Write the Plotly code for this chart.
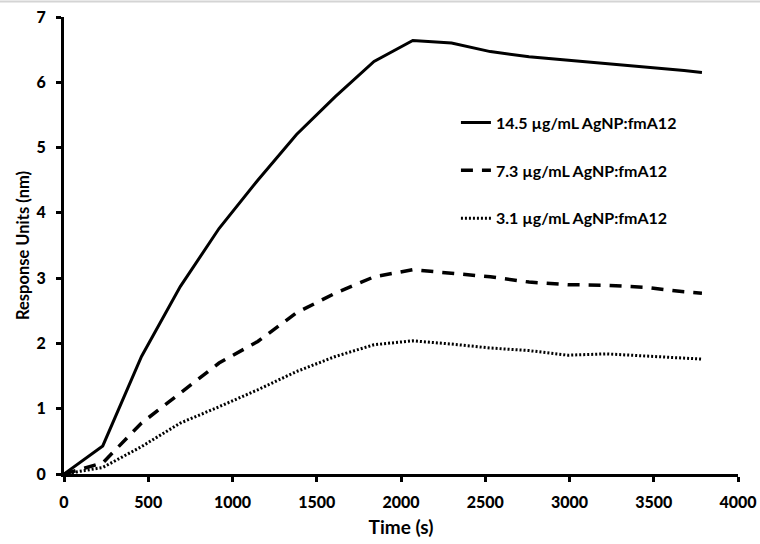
import plotly.graph_objects as go

# Sampling times (s) of the binding sensorgram
time_s = [0, 230, 460, 690, 920, 1150, 1380, 1610, 1840, 2070, 2300,
          2530, 2760, 2990, 3220, 3450, 3680, 3786]

# Response (nm) for each AgNP:fmA12 concentration
resp_14_5 = [0, 0.43, 1.80, 2.87, 3.76, 4.50, 5.20, 5.78, 6.32, 6.64, 6.60,
             6.47, 6.39, 6.34, 6.29, 6.24, 6.18, 6.15]
resp_7_3 = [0, 0.17, 0.78, 1.24, 1.70, 2.03, 2.47, 2.77, 3.02, 3.13, 3.08,
            3.02, 2.94, 2.90, 2.89, 2.86, 2.79, 2.77]
resp_3_1 = [0, 0.10, 0.42, 0.78, 1.03, 1.29, 1.57, 1.80, 1.98, 2.04, 1.99,
            1.93, 1.89, 1.82, 1.84, 1.81, 1.77, 1.76]

series_names = ["14.5 µg/mL AgNP:fmA12",
                "7.3 µg/mL AgNP:fmA12",
                "3.1 µg/mL AgNP:fmA12"]

x_ticks = [0, 500, 1000, 1500, 2000, 2500, 3000, 3500, 4000]
y_ticks = [0, 1, 2, 3, 4, 5, 6, 7]

FONT = "Lato"

fig = go.Figure()
fig.add_trace(go.Scatter(x=time_s, y=resp_14_5, mode="lines", name=series_names[0],
                         legendgroup="a",
                         line=dict(color="black", width=3, dash="solid")))
fig.add_trace(go.Scatter(x=time_s, y=resp_7_3, mode="lines", name=series_names[1],
                         legendgroup="b",
                         line=dict(color="black", width=3.5, dash="12px,9px")))
fig.add_trace(go.Scatter(x=time_s, y=resp_3_1, mode="lines", name=series_names[2],
                         legendgroup="c",
                         line=dict(color="black", width=3, dash="2px,2px")))

axis_common = dict(
    showgrid=False, zeroline=False, automargin=False,
    showline=True, linecolor="black", linewidth=3,
    ticks="outside", ticklen=5, tickwidth=2.5, tickcolor="black",
    tickfont=dict(family=FONT, size=16, color="black", weight=900),
    ticklabelstandoff=7,
)

fig.update_xaxes(range=[0, 4000], tickvals=x_ticks,
                 title=dict(text="Time (s)", standoff=11,
                            font=dict(family=FONT, size=19, color="black", weight="bold")),
                 **axis_common)
fig.update_yaxes(range=[0, 7], tickvals=y_ticks,
                 title=dict(text="Response Units (nm)", standoff=3,
                            font=dict(family=FONT, size=16.5, color="black", weight="bold")),
                 **axis_common)

fig.update_layout(
    width=760, height=544,
    margin=dict(l=64, r=22, t=17, b=70, pad=0),
    paper_bgcolor="white", plot_bgcolor="white",
    showlegend=True,
    legend=dict(x=0.5815, y=0.806, xanchor="left", yanchor="top",
                traceorder="grouped", tracegroupgap=24,
                bgcolor="rgba(0,0,0,0)",
                font=dict(family=FONT, size=16, color="black", weight="bold")),
    shapes=[dict(type="line", xref="paper", yref="paper",
                 x0=-0.1, x1=1.1, y0=1.034, y1=1.034,
                 line=dict(color="#d4d4d4", width=2))],
)

fig.write_html("out.html")
